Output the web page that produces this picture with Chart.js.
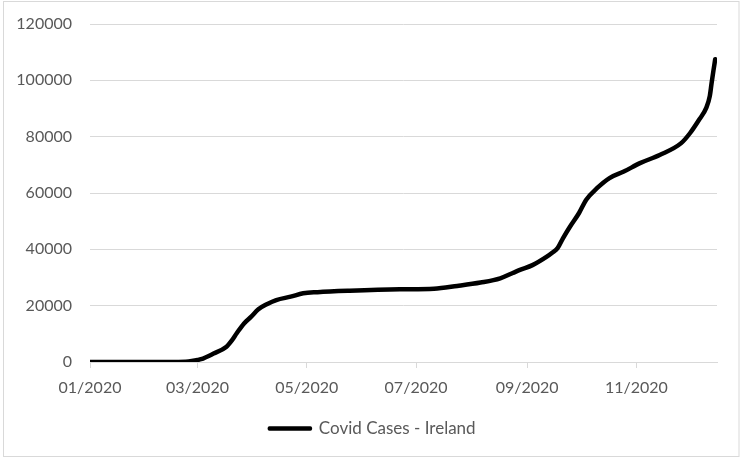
<!DOCTYPE html>
<html>
<head>
<meta charset="utf-8">
<script src="https://cdn.jsdelivr.net/npm/chart.js@4.4.1/dist/chart.umd.min.js"></script>
<style>
  html, body { margin: 0; padding: 0; background: #fff; }
  #wrap { width: 741px; height: 460px; position: relative; }
</style>
</head>
<body>
<div id="wrap"><canvas id="c" width="741" height="460"></canvas></div>
<script>
// ---- data ----
const seriesName = 'Covid Cases - Ireland';
const dates = [
  '2020-01-01','2020-02-17','2020-02-25','2020-03-01','2020-03-03','2020-03-10',
  '2020-03-17','2020-03-20','2020-03-23','2020-03-27','2020-03-31','2020-04-04',
  '2020-04-09','2020-04-14','2020-04-22','2020-04-29','2020-05-07','2020-05-25',
  '2020-06-22','2020-07-11','2020-07-24','2020-08-06','2020-08-17','2020-08-24',
  '2020-08-28','2020-09-04','2020-09-12','2020-09-15','2020-09-18','2020-09-21',
  '2020-09-25','2020-09-30','2020-10-04','2020-10-10','2020-10-17','2020-10-25',
  '2020-11-03','2020-11-14','2020-11-26','2020-12-01','2020-12-06','2020-12-10',
  '2020-12-12','2020-12-13','2020-12-14','2020-12-15'
];
const cases = [
  0, 0, 150, 700, 1000, 3000,
  5300, 7500, 10300, 13700, 16100, 18700,
  20600, 22000, 23200, 24400, 24800, 25300,
  25800, 26000, 27000, 28200, 29700, 31600,
  32700, 34400, 37400, 38800, 40400, 43900,
  48100, 52900, 57600, 61700, 65300, 67600,
  70600, 73500, 77700, 81300, 86000, 90200,
  94500, 99100, 103400, 107500
];
const tickDates  = ['2020-01-01','2020-03-01','2020-05-01','2020-07-01','2020-09-01','2020-11-01'];
const tickLabels = ['01/2020','03/2020','05/2020','07/2020','09/2020','11/2020'];
const axisEndDate = '2020-12-16';
const yMax = 120000, yStep = 20000;

// ---- helpers ----
const t0 = Date.UTC(2020, 0, 1);
function dayOf(s) { const [y, m, d] = s.split('-').map(Number); return (Date.UTC(y, m - 1, d) - t0) / 86400000; }
const points = dates.map((d, i) => ({ x: dayOf(d), y: cases[i] }));
const tickDays = tickDates.map(dayOf);

const FONT = 'Lato, "Open Sans", sans-serif';
const GRID = '#d9d9d9';
const TXT = '#595959';

const framePlugin = {
  id: 'frame',
  afterLayout(chart) {
    // centre the legend like the reference (shift its box, not its items)
    const lg = chart.legend;
    if (lg) { lg.left += 14; lg.right += 14; }
  },
  beforeDraw(chart) {
    const ctx = chart.ctx;
    ctx.save();
    ctx.fillStyle = '#fff';
    ctx.fillRect(0, 0, chart.width, chart.height);
    ctx.strokeStyle = GRID;
    ctx.lineWidth = 1;
    ctx.strokeRect(3.5, 1.5, 735.5, 455);
    ctx.restore();
  }
};

new Chart(document.getElementById('c'), {
  type: 'line',
  data: {
    datasets: [{
      label: seriesName,
      data: points,
      borderColor: '#000',
      backgroundColor: '#000',
      borderWidth: 4.5,
      pointRadius: 0,
      cubicInterpolationMode: 'monotone',
      borderCapStyle: 'round',
      borderJoinStyle: 'round',
      fill: false
    }]
  },
  options: {
    responsive: false,
    animation: false,
    devicePixelRatio: 1,
    layout: { padding: { left: 0, right: 24, top: 24, bottom: 13 } },
    plugins: {
      tooltip: { enabled: false },
      legend: {
        position: 'bottom',
        labels: {
          color: TXT,
          font: { family: FONT, size: 17 },
          boxWidth: 41,
          boxHeight: 1,
          padding: 10,
          generateLabels(chart) {
            return Chart.defaults.plugins.legend.labels.generateLabels(chart).map(l => Object.assign(l, { lineWidth: 3.5, fillStyle: '#000', strokeStyle: '#000' }));
          }
        }
      }
    },
    scales: {
      x: {
        type: 'linear',
        min: 0,
        max: dayOf(axisEndDate),
        afterBuildTicks(scale) { scale.ticks = tickDays.map(v => ({ value: v })); },
        afterFit(scale) { scale.height = 48; },
        ticks: {
          autoSkip: false, maxRotation: 0, minRotation: 0,
          color: TXT, font: { family: FONT, size: 16 }, padding: 10,
          callback(v) { const i = tickDays.indexOf(v); return i >= 0 ? tickLabels[i] : ''; }
        },
        grid: { drawOnChartArea: false, drawTicks: true, tickLength: 6, color: GRID, lineWidth: 1 },
        border: { display: true, color: GRID, width: 1 }
      },
      y: {
        min: 0, max: yMax,
        afterFit(scale) { scale.width = 90; },
        ticks: { stepSize: yStep, color: TXT, font: { family: FONT, size: 16, lineHeight: 0.6 }, padding: 18,
                 callback(v) { return String(v); } },
        grid: { color: GRID, lineWidth: 1, drawTicks: false },
        border: { display: false }
      }
    }
  },
  plugins: [framePlugin]
});
</script>
</body>
</html>
